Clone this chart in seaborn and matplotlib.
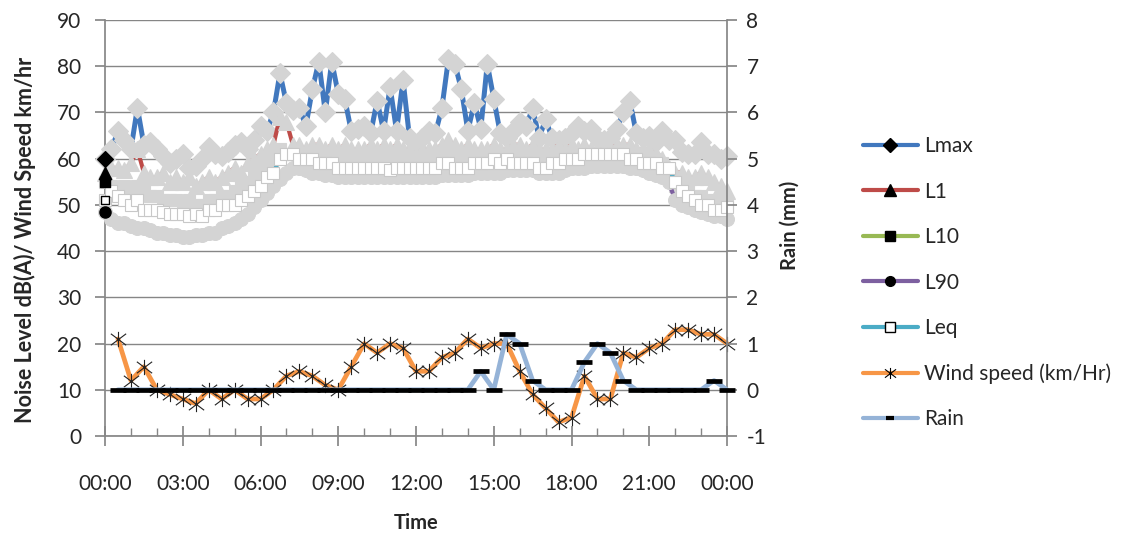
import numpy as np
import pandas as pd
import matplotlib
matplotlib.use("Agg")
import matplotlib.pyplot as plt
import seaborn as sns
from matplotlib.lines import Line2D
from matplotlib.path import Path

sns.set_theme(style="white")
plt.rcParams['font.family'] = ['Lato', 'DejaVu Sans']
plt.rcParams['axes.unicode_minus'] = False

# ---------------- data (15-min noise levels, 30-min weather) ----------------
lmax = [60, 62, 66, 64, 62, 71, 63, 63.5, 62, 60.5,
        59, 60, 61, 58, 58.5, 60, 62.5, 61, 60.5, 61.5,
        63, 63.5, 62, 64, 67, 66, 70, 78.5, 72, 70.5,
        71, 67, 75, 81, 70, 81, 74, 73, 66, 66.5,
        67, 65.5, 72.5, 66, 75.5, 66, 77, 64.5, 62.5, 64.5,
        66, 65.5, 71, 81.5, 80.5, 75, 66, 72, 66.5, 80.5,
        73, 65.5, 64.5, 66, 68, 67, 71, 64.5, 68.5, 64.5,
        64, 64.5, 65.5, 67, 66, 66.5, 64.5, 64, 64.5, 66.5,
        70, 72.5, 65.5, 64.5, 65, 63.5, 66, 64, 64, 61.5,
        61, 61, 63.5, 61, 61, 60, 60.5]
l1 = [57, 58, 58, 57.5, 59, 62, 57, 56, 56, 57,
      55, 56, 55, 56, 54, 55, 56, 55, 56, 57,
      58, 57, 59, 60, 61, 62, 63, 69, 68, 63,
      63, 62, 63, 63, 62, 63, 62, 63, 62, 62,
      62, 63, 62, 63, 62, 63, 62, 62, 61, 62,
      62, 62, 63, 64, 63, 62, 63, 62, 62, 62,
      63, 62, 62, 63, 63, 62, 63, 62, 62, 62,
      63, 62, 63, 62, 63, 62, 62, 62, 62, 63,
      63, 63, 62, 62, 62, 61, 60, 58, 57, 57,
      56, 56, 57, 56, 55, 54, 53]
l10 = [55, 54, 53, 54, 53, 54, 53, 52, 52, 51,
       51, 51, 50, 51, 50, 50, 51, 51, 52, 52,
       53, 54, 55, 56, 58, 59, 60, 62, 61, 61,
       61, 60, 60, 60, 60, 60, 60, 59, 59, 59,
       59, 59, 59, 59, 59, 59, 59, 59, 59, 59,
       59, 59, 60, 60, 60, 59, 59, 59, 59, 60,
       60, 60, 60, 60, 60, 60, 60, 60, 60, 60,
       60, 60, 60, 60, 61, 61, 61, 61, 61, 61,
       61, 61, 61, 61, 60, 60, 59, 57, 54, 53,
       53, 52, 52, 51, 51, 50, 50]
l90 = [48.5, 47, 46, 46, 45.5, 45, 45, 44.5, 44, 44,
       43.5, 43.5, 43, 43, 43.5, 43.5, 44, 44, 45, 45.5,
       46, 47, 48, 49.5, 51, 52.5, 54, 55.5, 57, 58,
       58, 57.5, 57, 57, 56.5, 56.5, 56, 56, 56, 56,
       56, 56, 56, 56, 56, 56, 56, 56, 56, 56,
       56, 56, 56.5, 56.5, 56.5, 56.5, 56.5, 57, 57, 57,
       57, 57, 57.5, 57.5, 57.5, 57.5, 57.5, 57, 57, 57,
       57, 57.5, 58, 58, 58, 58.5, 58.5, 58.5, 58.5, 58.5,
       58.5, 58, 58, 57.5, 57, 56.5, 56, 55, 51, 50,
       49.5, 49, 48.5, 48, 47.5, 47.5, 47]
leq = [51, 53, 52, 51, 50, 51, 49, 49, 49, 48.5,
       48, 48, 48, 47.5, 48, 47.5, 49, 49, 50, 50,
       50, 51, 52, 53, 54, 56, 57, 60, 61, 61,
       60, 60, 60, 59, 59, 59, 58, 58, 58, 58,
       58, 58, 58, 58, 57.5, 58, 58, 58, 58, 58,
       58, 58, 59, 59, 58, 58, 58, 59, 59, 59,
       60, 59, 60, 59, 59, 59, 59, 58, 58, 59,
       59, 60, 60, 60, 61, 61, 61, 61, 61, 61,
       61, 60, 60, 59, 59, 59, 58, 58, 55, 53,
       52, 51, 50, 50, 49, 49, 49.5]
wind = [21, 12, 15, 10, 9, 8, 7, 10, 8, 10,
        8, 8, 10, 13, 14, 13, 11, 10, 15, 20,
        18, 20, 19, 14, 14, 17, 18, 21, 19, 20,
        20, 14, 9, 6, 3, 4, 13, 8, 8, 18,
        17, 19, 20, 23, 23, 22, 22, 20]
rain = [0, 0, 0, 0, 0, 0, 0, 0, 0, 0,
        0, 0, 0, 0, 0, 0, 0, 0, 0, 0,
        0, 0, 0, 0, 0, 0, 0, 0, 0.4, 0,
        1.2, 1.0, 0.2, 0, 0, 0, 0.6, 1.0, 0.8, 0.2,
        0, 0, 0, 0, 0, 0, 0.2, 0]
tick_labels = ['00:00', '03:00', '06:00', '09:00', '12:00', '15:00',
               '18:00', '21:00', '00:00']
series_names = ['Lmax', 'L1', 'L10', 'L90', 'Leq', 'Wind speed (km/Hr)', 'Rain']

noise_hours = np.arange(len(lmax)) * 0.25      # 00:00 .. 24:00 every 15 min
met_hours = (np.arange(len(wind)) + 1) * 0.5   # 00:30 .. 24:00 every 30 min

noise = pd.DataFrame({'t': noise_hours, 'Lmax': lmax, 'L1': l1, 'L10': l10,
                      'L90': l90, 'Leq': leq})
met = pd.DataFrame({'t': met_hours, 'wind': wind, 'rain': rain})

# ---------------- styling ----------------
BLUE, RED, GREEN, PURPLE, TEAL = '#4178BE', '#BE4B48', '#98B954', '#7D60A0', '#4BACC6'
ORANGE, RAINBLUE = '#F79646', '#95B3D7'
GREY = '#D4D4D4'
AXC = '#868686'
TXT = '#262626'

W, H = 1129, 539
fig = plt.figure(figsize=(W / 100, H / 100), dpi=100)
L, R, T, B = 105, 727, 20, 436
ax = fig.add_axes([L / W, 1 - B / H, (R - L) / W, (B - T) / H])
ax2 = ax.twinx()

star = Path([(-1, -0.75), (1, 0.75), (-1, 0.75), (1, -0.75), (0, -1), (0, 1)],
            [Path.MOVETO, Path.LINETO, Path.MOVETO, Path.LINETO, Path.MOVETO, Path.LINETO])

specs = [('Lmax', BLUE, 'D', 10, GREY, GREY, 3, 3.6),
         ('L1', RED, '^', 11, GREY, GREY, 4, 3),
         ('L10', GREEN, 's', 8.5, GREY, GREY, 5, 3),
         ('L90', PURPLE, 'o', 10, GREY, GREY, 6, 3),
         ('Leq', TEAL, 's', 8, 'white', '#C8C8C8', 7, 3)]
first_fc = {'Lmax': 'black', 'L1': 'black', 'L10': 'black', 'L90': 'black', 'Leq': 'white'}
for name, col, mk, ms, fc, ec, z, lw in specs:
    sns.lineplot(data=noise, x='t', y=name, ax=ax, color=col, lw=lw, marker=mk,
                 markersize=ms, markerfacecolor=fc, markeredgecolor=ec,
                 markeredgewidth=0.8, errorbar=None, legend=False, zorder=z,
                 clip_on=False)
for name, col, mk, ms, fc, ec, z, lw in specs:
    sns.scatterplot(data=noise.iloc[:1], x='t', y=name, ax=ax, marker=mk,
                    s=(ms * 0.8) ** 2, color=first_fc[name], edgecolor='black',
                    linewidth=1, legend=False, zorder=9, clip_on=False)

sns.lineplot(data=met, x='t', y='wind', ax=ax, color=ORANGE, lw=3.4, marker=star,
             markersize=11, markeredgecolor='#222222', markeredgewidth=0.8,
             markerfacecolor='none', errorbar=None, legend=False, zorder=8,
             clip_on=False)
sns.lineplot(data=met, x='t', y='rain', ax=ax2, color=RAINBLUE, lw=3.4, marker='_',
             markersize=12, markeredgecolor='black', markeredgewidth=3.4,
             errorbar=None, legend=False, zorder=3, clip_on=False)

# ---------------- axes ----------------
ax.set_xlim(0, 24)
ax.set_ylim(0, 90)
ax2.set_ylim(-1, 8)
ax.set_xticks(np.arange(0, 25, 3))
ax.set_xticklabels(tick_labels)
ax.set_xticks(np.arange(0, 25, 1), minor=True)
ax.set_yticks(np.arange(0, 91, 10))
ax2.set_yticks(np.arange(-1, 9, 1))
ax.yaxis.grid(True, color=AXC, lw=1)
ax.xaxis.grid(False)
ax.set_axisbelow(True)
ax.set_xlabel('')
ax.set_ylabel('')
ax2.set_ylabel('')

for sp in ['top', 'right']:
    ax.spines[sp].set_visible(False)
for sp in ['top', 'left', 'bottom']:
    ax2.spines[sp].set_visible(False)
for sp in ['left', 'bottom']:
    ax.spines[sp].set_color(AXC)
ax2.spines['right'].set_color(AXC)

ax.tick_params(axis='x', which='major', direction='inout', length=14, color=AXC,
               labelsize=15, labelcolor=TXT, pad=20, bottom=True)
ax.tick_params(axis='x', which='minor', direction='in', length=6, color=AXC, bottom=True)
ax.tick_params(axis='y', which='major', direction='out', length=7, color=AXC,
               labelsize=15, labelcolor=TXT, pad=10, left=True)
ax2.tick_params(axis='y', which='major', direction='out', length=7, color=AXC,
                labelsize=15, labelcolor=TXT, pad=7, right=True)

fig.text(25 / W, 1 - 240 / H, 'Noise Level dB(A)/ Wind Speed km/hr', rotation=90,
         ha='center', va='center', fontsize=15.5, fontweight='bold', color=TXT)
fig.text(790 / W, 1 - 225 / H, 'Rain (mm)', rotation=90, ha='center', va='center',
         fontsize=14.5, fontweight='bold', color=TXT)
fig.text(416 / W, 1 - 523 / H, 'Time', ha='center', va='center',
         fontsize=14.5, fontweight='bold', color=TXT)

# ---------------- legend ----------------
handles = [
    Line2D([], [], color=BLUE, lw=3, marker='D', ms=7, mfc='black', mec='black'),
    Line2D([], [], color=RED, lw=3, marker='^', ms=8, mfc='black', mec='black'),
    Line2D([], [], color=GREEN, lw=3, marker='s', ms=7, mfc='black', mec='black'),
    Line2D([], [], color=PURPLE, lw=3, marker='o', ms=7, mfc='black', mec='black'),
    Line2D([], [], color=TEAL, lw=3, marker='s', ms=7, mfc='white', mec='black', mew=1),
    Line2D([], [], color=ORANGE, lw=3, marker=star, ms=8, mec='black', mew=0.8),
    Line2D([], [], color=RAINBLUE, lw=3, marker='_', ms=6, mec='black', mew=3),
]
fig.legend(handles, series_names, loc='upper left',
           bbox_to_anchor=(855 / W, 1 - 128 / H), frameon=False, fontsize=15,
           handlelength=2.6, handletextpad=0.3, labelspacing=1.22,
           labelcolor=TXT, borderaxespad=0)

fig.savefig('out.png', dpi=100)
